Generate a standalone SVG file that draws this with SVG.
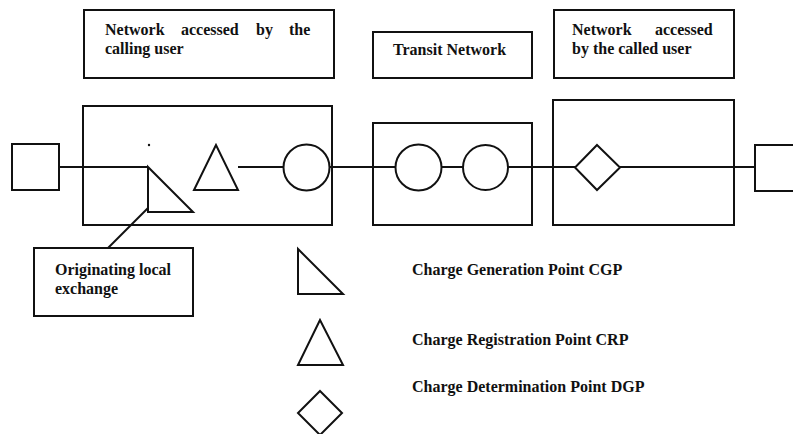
<svg xmlns="http://www.w3.org/2000/svg" width="793" height="434" viewBox="0 0 793 434">
<style>
.b{fill:none;stroke:#111;stroke-width:2}
.s{fill:#fff;stroke:#111;stroke-width:2;stroke-linejoin:miter}
.l{fill:none;stroke:#111;stroke-width:2}
text{font-family:"Liberation Serif","Times New Roman",serif;font-size:16px;font-weight:bold;fill:#111}
</style>
<rect width="793" height="434" fill="#fff"/>
<g id="label-calling" class="node">
<rect class="b" x="84" y="10" width="250" height="68"/>
<text y="35"><tspan x="105">Network</tspan><tspan x="181">accessed</tspan><tspan x="256">by</tspan><tspan x="289">the</tspan></text>
<text x="105" y="54">calling user</text>
</g>
<g id="label-transit" class="node">
<rect class="b" x="373" y="32" width="159" height="46"/>
<text x="393" y="55">Transit Network</text>
</g>
<g id="label-called" class="node">
<rect class="b" x="554" y="10" width="180" height="68"/>
<text y="35"><tspan x="572">Network</tspan><tspan x="655">accessed</tspan></text>
<text x="572" y="54">by the called user</text>
</g>
<g id="net-calling" class="node"><rect class="b" x="83" y="106" width="249" height="119"/></g>
<g id="net-transit" class="node"><rect class="b" x="373" y="123" width="159" height="102"/></g>
<g id="net-called" class="node"><rect class="b" x="553" y="100" width="181" height="125"/></g>
<g id="connectors">
<line class="l" x1="59" y1="167" x2="148" y2="167"/>
<line class="l" x1="238" y1="167" x2="283" y2="167"/>
<line class="l" x1="330" y1="167" x2="395" y2="167"/>
<line class="l" x1="442" y1="167" x2="463" y2="167"/>
<line class="l" x1="508" y1="167" x2="575" y2="167"/>
<line class="l" x1="620" y1="167" x2="755" y2="167"/>
<line class="l" x1="108" y1="248" x2="158" y2="198"/>
</g>
<g id="user-calling" class="node"><rect class="s" x="12" y="144" width="47" height="46"/></g>
<g id="user-called" class="node"><rect class="s" x="755" y="145" width="46" height="46"/></g>
<g id="cgp" class="node"><polygon class="s" points="148,167 148,212 193,212"/></g>
<g id="dot"><circle cx="149" cy="145" r="1.2" fill="#111"/></g>
<g id="crp" class="node"><polygon class="s" points="216,145 194,190 238,190"/></g>
<g id="ex1" class="node"><circle class="s" cx="306.5" cy="167.5" r="23"/></g>
<g id="ex2" class="node"><circle class="s" cx="418.5" cy="167.5" r="23"/></g>
<g id="ex3" class="node"><circle class="s" cx="485.5" cy="167.5" r="22.5"/></g>
<g id="dgp" class="node"><polygon class="s" points="597,145 620,167.5 597,190 575,167.5"/></g>
<g id="label-originating" class="node">
<rect class="b" x="34" y="248" width="159" height="68"/>
<text x="55" y="275">Originating local</text>
<text x="55" y="294">exchange</text>
</g>
<g id="legend">
<polygon class="s" points="298,249 298,294 343,294"/>
<text x="412" y="275">Charge Generation Point CGP</text>
<polygon class="s" points="320,320 298,365 343,365"/>
<text x="412" y="345">Charge Registration Point CRP</text>
<polygon class="s" points="320,391 342,413 320,435 298,413"/>
<text x="412" y="392">Charge Determination Point DGP</text>
</g>
</svg>
